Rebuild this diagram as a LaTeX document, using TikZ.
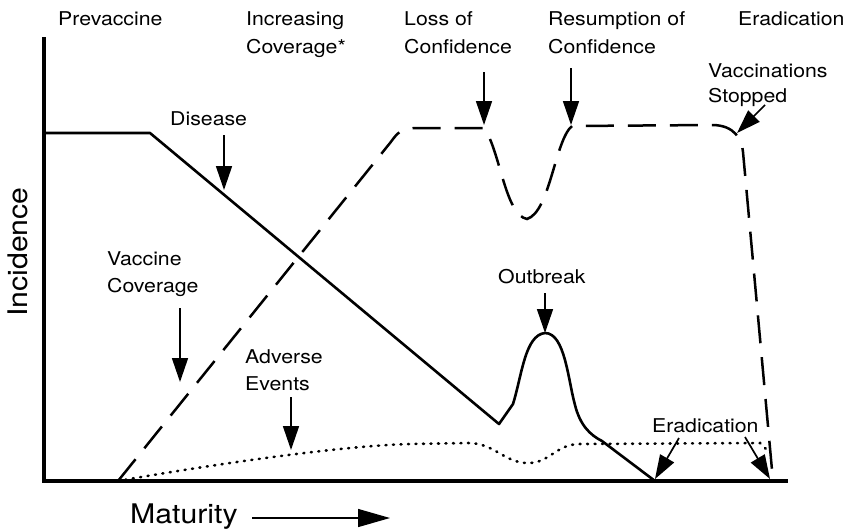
\documentclass[tikz,border=0pt]{standalone}
\usepackage{fontspec}
\setmainfont{TeX Gyre Heros}[FakeStretch=1.12]
\usetikzlibrary{arrows.meta}

\begin{document}
\begin{tikzpicture}[x=1pt,y=-1pt]
      \useasboundingbox (0,0) rectangle (850,531);

      % axes
      \draw[line width=3.2pt] (44,37) -- (44,481) -- (788,481);

      % labels (multi-line ones sit on the baseline of their last line)
      \begin{scope}[every node/.style={inner sep=0pt,anchor=base west,align=left,
          font=\fontsize{19}{28}\selectfont}]
        \node (prevac) at (58,25) {Prevaccine};
        \node (incr) at (246,53) {Increasing\\Coverage*};
        \node (loss) at (404,53) {Loss of\\Confidence};
        \node (resum) at (548,53) {Resumption of\\Confidence};
        \node (eratop) at (738,25) {Eradication};
        \node[font=\fontsize{19}{25}\selectfont] (stop) at (708,102) {Vaccinations\\Stopped};
        \node (dis) at (170,125) {Disease};
        \node[font=\fontsize{19}{27}\selectfont] (cov) at (107,292) {Vaccine\\Coverage};
        \node[font=\fontsize{19}{27}\selectfont] (adv) at (245,390) {Adverse\\Events};
        \node (outb) at (498,283) {Outbreak};
        \node (erabot) at (652,432) {Eradication};
        \node[font=\fontsize{27}{32}\selectfont] (mat) at (130,523) {Maturity};
        \node[anchor=center,rotate=90,font=\fontsize{27}{32}\selectfont] (inc) at (18,252) {Incidence};
      \end{scope}

      % disease
      \draw[line width=2.6pt, line join=round] (44,133) -- (150,133) -- (499,424) -- (513,404)
        .. controls (522,375) and (525,335) .. (545,333)
        .. controls (565,333) and (568,380) .. (575,405)
        .. controls (580,425) and (590,435) .. (602,441) -- (655,481);

      % vaccine coverage
      \draw[line width=2.5pt, dash pattern=on 28pt off 14pt] (118,481) -- (390,143)
        .. controls (399,131) .. (414,128) -- (484,128)
        .. controls (500,150) and (505,215) .. (527,219)
        .. controls (550,212) and (555,140) .. (572,126) -- (712,125)
        .. controls (735,125) and (742,140) .. (743,152) -- (773,481);

      % adverse events
      \draw[line width=2.6pt, line cap=round, dash pattern=on 1pt off 6.5pt] (118,481)
        .. controls (180,470) and (330,446) .. (410,444) -- (470,443)
        .. controls (495,444) and (505,463) .. (528,463)
        .. controls (550,463) and (556,444) .. (580,444) -- (760,443) -- (769,452);

      \coordinate (disS) at (224,135);  \coordinate (disT) at (224,190);
      \coordinate (covS) at (180,308);  \coordinate (covT) at (180,382);
      \coordinate (advS) at (291,397);  \coordinate (advT) at (291,450);
      \coordinate (lossS) at (484,72);  \coordinate (lossT) at (484,125);
      \coordinate (resS) at (571,68);   \coordinate (resT) at (571,125);
      \coordinate (outS) at (545,293);  \coordinate (outT) at (545,333);
      \coordinate (stopS) at (765,105); \coordinate (stopT) at (737,133);
      \coordinate (eraAS) at (679,438); \coordinate (eraAT) at (655,479);
      \coordinate (eraBS) at (745,437); \coordinate (eraBT) at (770,479);
      \coordinate (matS) at (252,518);  \coordinate (matT) at (390,518);

      \begin{scope}[>={Triangle[length=24pt,width=16pt]},
          every edge/.style={draw=black,line width=1.7pt}]
        \path [->] (disS) edge (disT);
        \path [->] (covS) edge (covT);
        \path [->] (advS) edge (advT);
        \path [->] (lossS) edge (lossT);
        \path [->] (resS) edge (resT);
        \path [->] (outS) edge (outT);
        \path [->] (stopS) edge (stopT);
        \path [->] (eraAS) edge (eraAT);
        \path [->] (eraBS) edge (eraBT);
        \path [->, >={Triangle[length=32pt,width=18pt]}] (matS) edge[line width=1.4pt] (matT);
      \end{scope}
    \end{tikzpicture}
\end{document}
